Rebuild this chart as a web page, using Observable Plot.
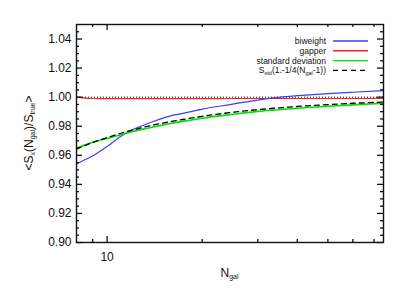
<!DOCTYPE html>
<html><head><meta charset="utf-8">
<script src="https://cdn.jsdelivr.net/npm/d3@7"></script>
<script src="https://cdn.jsdelivr.net/npm/@observablehq/plot@0.6"></script>
<style>
body{margin:0;background:#fff}
svg{font-family:"Liberation Sans",Arial,sans-serif}
</style>
</head><body><div id="chart"></div>
<script>
// ---- data ----
const nGal      = [8, 8.5, 9, 9.5, 10, 11, 12, 13, 14, 15, 16, 17.5, 20, 25, 30, 34, 40, 50, 60, 75];
const biweight  = [0.9540,0.9569,0.9595,0.9628,0.9660,0.9727,0.9775,0.9805,0.9833,0.9856,0.9873,0.9890,0.9918,0.9952,0.9980,0.9997,1.0010,1.0024,1.0034,1.0045];
const gapper    = [1.0000,0.9994,0.9991,0.9990,0.9990,0.9990,0.9990,0.9990,0.9990,0.9990,0.9990,0.9990,0.9990,0.9991,0.9991,0.9991,0.9991,0.9991,0.9991,0.9992];
const stdDev    = [0.9650,0.9670,0.9690,0.9704,0.9716,0.9740,0.9762,0.9780,0.9795,0.9808,0.9820,0.9835,0.9855,0.9882,0.9902,0.9912,0.9924,0.9937,0.9947,0.9958];
const corrected = [0.9643,0.9667,0.9688,0.9706,0.9722,0.9750,0.9773,0.9792,0.9808,0.9821,0.9833,0.9848,0.9868,0.9896,0.9914,0.9924,0.9936,0.9949,0.9958,0.9966];
const refLevel  = [1.0];

const yMajor = [0.90, 0.92, 0.94, 0.96, 0.98, 1.00, 1.02, 1.04];
const yMinor = [0.905,0.91,0.915,0.925,0.93,0.935,0.945,0.95,0.955,0.965,0.97,0.975,0.985,0.99,0.995,1.005,1.01,1.015,1.025,1.03,1.035,1.045];
const xMajor = [10];
const xMinor = [9, 20, 30, 40, 50, 60, 70];

const seriesColors = ["#3c3cff", "#ff2020", "#00e000", "#000000"];

const W = 407, H = 291, mL = 76, mR = 24, mT = 24, mB = 49;
const fw = W - mL - mR, fh = H - mT - mB;
const rows = (vals) => nGal.map((n, i) => ({n, v: vals[i]}));
const id = d => d;
const tk = {stroke: "#111", strokeWidth: 1.3};

const plot = Plot.plot({
  width: W, height: H,
  marginLeft: mL, marginRight: mR, marginTop: mT, marginBottom: mB,
  style: {fontFamily: '"Liberation Sans", Arial, sans-serif', fontSize: "12px", background: "white", color: "#111"},
  x: {type: "log", domain: [8, 75], label: null},
  y: {domain: [0.90, 1.05], label: null},
  marks: [
    Plot.line(rows(gapper), {x: "n", y: "v", stroke: seriesColors[1], strokeWidth: 1.2, curve: "monotone-x"}),
    Plot.ruleY(refLevel, {stroke: "#000", strokeWidth: 1, strokeDasharray: "1,2"}),
    Plot.line(rows(biweight), {x: "n", y: "v", stroke: seriesColors[0], strokeWidth: 1.2, curve: "monotone-x"}),
    Plot.line(rows(stdDev), {x: "n", y: "v", stroke: seriesColors[2], strokeWidth: 1.6, curve: "monotone-x"}),
    Plot.line(rows(corrected), {x: "n", y: "v", stroke: seriesColors[3], strokeWidth: 1.3, strokeDasharray: "5,4", curve: "monotone-x"}),
    // inward ticks
    Plot.tickY(yMajor, {y: id, insetRight: fw - 6, ...tk}),
    Plot.tickY(yMinor, {y: id, insetRight: fw - 3, ...tk}),
    Plot.tickY(yMajor, {y: id, insetLeft: fw - 6, ...tk}),
    Plot.tickY(yMinor, {y: id, insetLeft: fw - 3, ...tk}),
    Plot.tickX(xMajor, {x: id, insetTop: fh - 6, ...tk}),
    Plot.tickX(xMinor, {x: id, insetTop: fh - 3, ...tk}),
    Plot.tickX(xMajor, {x: id, insetBottom: fh - 6, ...tk}),
    Plot.tickX(xMinor, {x: id, insetBottom: fh - 3, ...tk}),
    // tick labels
    Plot.axisY(yMajor, {anchor: "left", tickSize: 0, tickPadding: 5, tickFormat: d => d.toFixed(2), fontSize: 12, label: null}),
    Plot.axisX(xMajor, {anchor: "bottom", tickSize: 0, tickPadding: 10, tickFormat: d => String(d), fontSize: 12, label: null}),
    Plot.frame({stroke: "#111", strokeWidth: 1.4})
  ]
});

const svg = d3.select(plot);
const [x0, x1] = plot.scale("x").range;
const [yb, yt] = plot.scale("y").range;

function richText(sel, parts, sub) {
  parts.forEach(([t, isSub]) => {
    const ts = sel.append("tspan").text(t);
    if (isSub) ts.attr("font-size", sub).attr("baseline-shift", "-25%");
  });
}

// y-axis title
const ytl = svg.append("text")
  .attr("transform", `translate(33,${(yt + yb) / 2}) rotate(-90)`)
  .attr("text-anchor", "middle").attr("font-size", 12).attr("fill", "#111");
richText(ytl, [["<S", 0], ["x", 1], ["(N", 0], ["gal", 1], [")/S", 0], ["true", 1], [">", 0]], 7);

// x-axis title
const xtl = svg.append("text")
  .attr("x", (x0 + x1) / 2).attr("y", yb + 35)
  .attr("text-anchor", "middle").attr("font-size", 12).attr("fill", "#111");
richText(xtl, [["N", 0], ["gal", 1]], 7);

// legend
const legendLabels = [
  [["biweight", 0]],
  [["gapper", 0]],
  [["standard deviation", 0]],
  [["S", 0], ["std", 1], ["(1.-1/4(N", 0], ["gal", 1], ["-1))", 0]]
];
const lg = svg.append("g").attr("font-size", 8.5).attr("fill", "#111");
legendLabels.forEach((parts, i) => {
  const y = yt + 17 + i * 9.8;
  const t = lg.append("text").attr("x", x1 - 57).attr("y", y + 3).attr("text-anchor", "end");
  richText(t, parts, 5.5);
  lg.append("line")
    .attr("x1", x1 - 50).attr("x2", x1 - 15).attr("y1", y).attr("y2", y)
    .attr("stroke", seriesColors[i]).attr("stroke-width", i === 3 ? 1.3 : 1.4)
    .attr("stroke-dasharray", i === 3 ? "5,4" : null);
});

document.getElementById("chart").appendChild(plot);
</script>
</body></html>
